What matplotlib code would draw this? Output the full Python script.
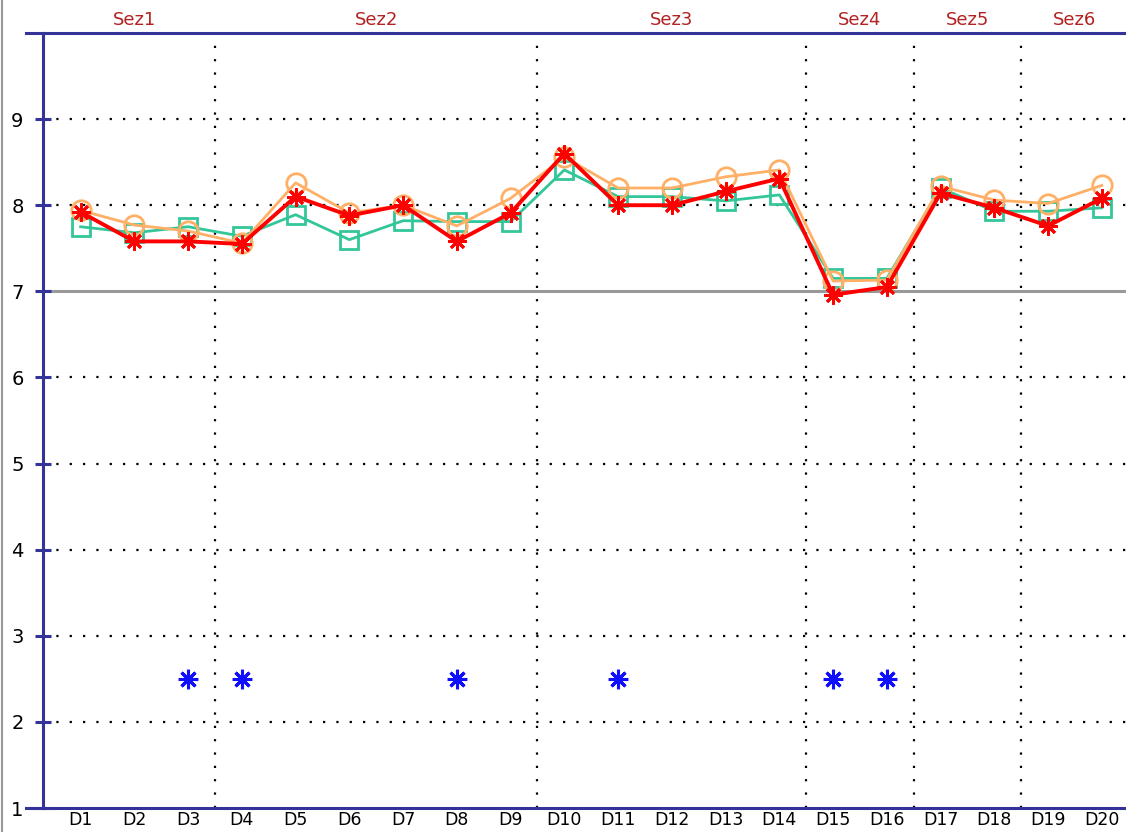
import matplotlib
matplotlib.use("Agg")
import matplotlib.pyplot as plt
from matplotlib.lines import Line2D

categories = [f"D{i}" for i in range(1, 21)]
red_vals = [7.92, 7.58, 7.58, 7.55, 8.10, 7.88, 8.00, 7.58, 7.91, 8.60,
            8.00, 8.00, 8.16, 8.31, 6.96, 7.05, 8.14, 7.97, 7.76, 8.08]
orange_vals = [7.94, 7.77, 7.70, 7.56, 8.26, 7.91, 8.00, 7.76, 8.08, 8.56,
               8.20, 8.20, 8.33, 8.41, 7.12, 7.13, 8.22, 8.06, 8.02, 8.23]
green_vals = [7.75, 7.68, 7.75, 7.64, 7.89, 7.60, 7.82, 7.81, 7.81, 8.41,
              8.10, 8.10, 8.05, 8.12, 7.15, 7.15, 8.20, 7.93, 7.93, 7.97]
blue_cats = ["D3", "D4", "D8", "D11", "D15", "D16"]
blue_vals = [2.5, 2.5, 2.5, 2.5, 2.5, 2.5]
sections = ["Sez1", "Sez2", "Sez3", "Sez4", "Sez5", "Sez6"]
section_sizes = [3, 6, 5, 2, 2, 2]
y_ticks = [1, 2, 3, 4, 5, 6, 7, 8, 9]

fig = plt.figure(figsize=(11.26, 8.32), dpi=100)
ax = fig.add_axes([43/1126, 1 - 808/832, 1 - 43/1126, (808 - 33)/832])

xs = list(range(1, 21))
idx = {c: i + 1 for i, c in enumerate(categories)}

ax.set_xlim(0.3, 20.45)
ax.set_ylim(1, 10)

# grid
for yv in y_ticks[1:]:
    if yv == 7:
        ax.axhline(yv, color="#999999", lw=2.2, zorder=1)
    else:
        ax.axhline(yv, color="black", lw=1.6, ls=(0, (1, 5)), zorder=1)

# section separators and labels
pos = 0
for name, n in zip(sections, section_sizes):
    start = pos + 1
    end = pos + n
    center = (start + end) / 2
    ax.annotate(name, xy=(center, 1), xycoords=("data", "axes fraction"),
                xytext=(0, 3), textcoords="offset points", ha="center",
                va="bottom", color="#B22222", fontsize=13)
    if end < 20:
        ax.axvline(end + 0.5, color="black", lw=1.6, ls=(0, (1, 5)), zorder=1)
    pos = end

ast = (8, 2, 0)
ax.plot(xs, green_vals, color="#33C699", lw=2, marker="s", ms=13, mfc="none",
        mec="#33C699", mew=2, zorder=3)
ax.plot(xs, orange_vals, color="#FFB066", lw=2, marker="o", ms=14, mfc="none",
        mec="#FFB066", mew=2, zorder=4)
ax.plot(xs, red_vals, color="#FF0000", lw=2.8, marker=ast, ms=13,
        mec="#FF0000", mew=2, zorder=5)
ax.plot([idx[c] for c in blue_cats], blue_vals, ls="none", marker=ast, ms=14,
        color="#1010FF", mec="#1010FF", mew=2.2, zorder=5)

ax.set_xticks(xs)
ax.set_xticklabels(categories, fontsize=12.5)
ax.set_yticks(y_ticks)
ax.set_yticklabels([str(v) for v in y_ticks], fontsize=14)
ax.tick_params(axis="x", length=0, pad=2)
ax.tick_params(axis="y", direction="inout", length=12, width=2.2,
               color="#333399", pad=8)

for s in ["right"]:
    ax.spines[s].set_visible(False)
for s in ["left", "top", "bottom"]:
    ax.spines[s].set_color("#333399")
    ax.spines[s].set_linewidth(2.2)

# extend top and bottom lines to the left
for yy in (0, 1):
    ax.add_line(Line2D([-0.016, 0], [yy, yy], transform=ax.transAxes,
                       color="#333399", lw=2.2, clip_on=False))

# outer frame line
fig.add_artist(Line2D([2/1126, 2/1126], [0, 1], transform=fig.transFigure,
                      color="#999999", lw=1.5))

fig.savefig("out.png", dpi=100)
